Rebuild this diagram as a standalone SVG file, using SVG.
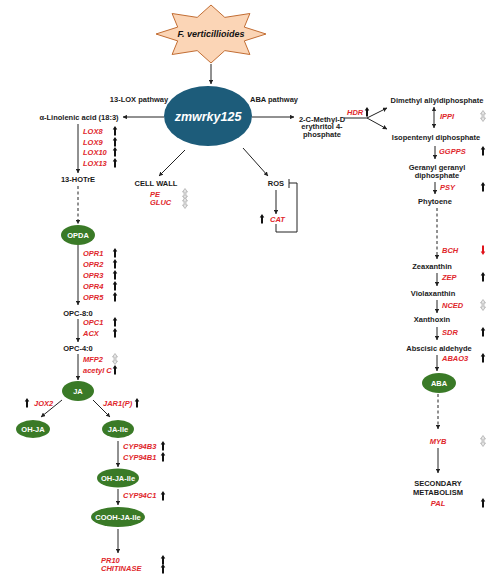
<svg xmlns="http://www.w3.org/2000/svg" width="498" height="576" viewBox="0 0 498 576">
<style>
.t{font-family:"Liberation Sans",Arial,sans-serif;font-weight:bold;font-size:7.5px;fill:#1a1a1a}
.m{text-anchor:middle}
.r{font-family:"Liberation Sans",Arial,sans-serif;font-weight:bold;font-style:italic;font-size:7.5px;fill:#e0262b}
.w{font-family:"Liberation Sans",Arial,sans-serif;font-weight:bold;font-size:7.5px;fill:#ffffff;text-anchor:middle}
.g{fill:#3a7a27}
.ln{stroke:#222;stroke-width:1;fill:none}
.ar{marker-end:url(#ah)}
.ds{stroke-dasharray:3 2.5}
</style>
<defs>
<marker id="ah" viewBox="0 0 8 8" refX="7.5" refY="4" markerWidth="4.5" markerHeight="4.5" markerUnits="userSpaceOnUse" orient="auto-start-reverse"><path d="M0,0 L8,4 L0,8 Z" fill="#222"/></marker>
<path id="up" d="M0,-5 L2.3,-1.5 L1,-1.5 L1,4.5 L-1,4.5 L-1,-1.5 L-2.3,-1.5 Z" fill="#111"/>
<path id="dn" d="M0,5 L2.3,1.5 L1,1.5 L1,-4.5 L-1,-4.5 L-1,1.5 L-2.3,1.5 Z" fill="#e0141c"/>
<path id="ud" d="M0,-5.5 L2.5,-2 L1,-2 L1,2 L2.5,2 L0,5.5 L-2.5,2 L-1,2 L-1,-2 L-2.5,-2 Z" fill="#e4e4e4" stroke="#9a9a9a" stroke-width="0.6"/>
</defs>

<g id="connectors">
<path class="ln ar" d="M211,64 V84"/>
<path class="ln ar" d="M164,117 H123"/>
<path class="ln ar" d="M252,117 H294"/>
<path class="ln ar" d="M78,124 V173"/>
<path class="ln ar ds" d="M78,186 V224"/>
<path class="ln ar" d="M78,245 V305"/>
<path class="ln ar" d="M78,319 V342"/>
<path class="ln ar" d="M78,354 V380"/>
<path class="ln ar" d="M62,400 L41,417"/>
<path class="ln ar" d="M93,400 L110,417"/>
<path class="ln ar" d="M118,441 V467"/>
<path class="ln ar" d="M118,489 V505"/>
<path class="ln ar" d="M118,529 V553"/>
<path class="ln ar" d="M185,150 L159,176"/>
<path class="ln ar" d="M243,148 L268,176"/>
<path class="ln ar" d="M276,190 V214"/>
<path class="ln" d="M276,224 V232 H297 V183 H289"/>
<path class="ln" d="M289,179 V188"/>
<path class="ln" d="M344,118 H367"/>
<path class="ln ar" d="M367,118 L387,108"/>
<path class="ln ar" d="M367,118 L387,129"/>
<path class="ln" d="M434,107 V128" marker-start="url(#ah)" marker-end="url(#ah)"/>
<path class="ln ar" d="M435,146 V159"/>
<path class="ln ar" d="M435,182 V194"/>
<path class="ln ar ds" d="M437,208 V259"/>
<path class="ln ar" d="M437,273 V286"/>
<path class="ln ar" d="M437,300 V313"/>
<path class="ln ar" d="M437,327 V340"/>
<path class="ln ar" d="M437,355 V371"/>
<path class="ln ar ds" d="M438,394 V429"/>
<path class="ln ar" d="M438,448 V473"/>
</g>

<g id="star">
<polygon points="211,5 224.8,17.4 249.9,13.5 244.3,27.1 266,34 244.3,40.9 249.9,54.5 224.8,50.6 211,63 197.2,50.6 172.1,54.5 177.7,40.9 156,34 177.7,27.1 172.1,13.5 197.2,17.4" fill="#fbd5b6" stroke="#c26d33" stroke-width="1"/>
<text x="211" y="37" class="m" style="font-family:'Liberation Sans',Arial,sans-serif;font-weight:bold;font-style:italic;font-size:9px;fill:#111">F. verticillioides</text>
</g>

<g id="zmwrky125">
<ellipse cx="208" cy="116" rx="44" ry="30" fill="#1d5c7a"/>
<text x="208" y="120.5" style="font-family:'Liberation Sans',Arial,sans-serif;font-weight:bold;font-style:italic;font-size:12.5px;fill:#fff;text-anchor:middle">zmwrky125</text>
</g>

<g id="labels-pathway">
<text class="t m" x="139" y="101.7">13-LOX pathway</text>
<text class="t m" x="274" y="101.7">ABA pathway</text>
</g>

<g id="lox-branch">
<text class="t m" x="79" y="119.7">α-Linolenic acid (18:3)</text>
<text class="r" x="83" y="133.5">LOX8</text>
<text class="r" x="83" y="144.5">LOX9</text>
<text class="r" x="83" y="155">LOX10</text>
<text class="r" x="83" y="166">LOX13</text>
<use href="#up" x="115" y="131"/><use href="#up" x="115" y="142"/><use href="#up" x="115" y="152"/><use href="#up" x="115" y="163"/>
<text class="t m" x="78" y="181.7">13-HOTrE</text>
</g>

<g id="OPDA"><ellipse class="g" cx="78" cy="235" rx="17" ry="10"/><text class="w" x="78" y="237.7">OPDA</text></g>

<g id="opr-genes">
<text class="r" x="83" y="256">OPR1</text>
<text class="r" x="83" y="267">OPR2</text>
<text class="r" x="83" y="277.7">OPR3</text>
<text class="r" x="83" y="288.7">OPR4</text>
<text class="r" x="83" y="299.7">OPR5</text>
<use href="#up" x="115" y="253"/><use href="#up" x="115" y="264"/><use href="#up" x="115" y="275"/><use href="#up" x="115" y="286"/><use href="#up" x="115" y="297"/>
<text class="t m" x="78" y="315.7">OPC-8:0</text>
<text class="r" x="83" y="324.7">OPC1</text>
<text class="r" x="83" y="336">ACX</text>
<use href="#up" x="115" y="322"/><use href="#up" x="115" y="333"/>
<text class="t m" x="78" y="350.7">OPC-4:0</text>
<text class="r" x="83" y="361.7">MFP2</text>
<text class="r" x="83" y="372.7">acetyl C</text>
<use href="#ud" x="115" y="359"/><use href="#up" x="115" y="370"/>
</g>

<g id="JA"><ellipse class="g" cx="78" cy="391" rx="16" ry="10"/><text class="w" x="78" y="393.7">JA</text></g>
<g id="ja-genes">
<use href="#up" x="27" y="403"/><text class="r" x="34" y="405.7">JOX2</text>
<text class="r" x="103" y="405.7">JAR1(P)</text><use href="#up" x="137" y="403"/>
</g>
<g id="OH-JA"><ellipse class="g" cx="33" cy="429" rx="17" ry="9"/><text class="w" x="33" y="431.7">OH-JA</text></g>
<g id="JA-Ile"><ellipse class="g" cx="118" cy="429" rx="16" ry="9"/><text class="w" x="118" y="431.7">JA-Ile</text></g>
<g id="cyp-genes">
<text class="r" x="123" y="448.7">CYP94B3</text>
<text class="r" x="123" y="459.7">CYP94B1</text>
<use href="#up" x="163" y="446"/><use href="#up" x="163" y="457"/>
</g>
<g id="OH-JA-Ile"><ellipse class="g" cx="118" cy="478" rx="21" ry="9.5"/><text class="w" x="118" y="480.7">OH-JA-Ile</text></g>
<g id="cyp94c1"><text class="r" x="123" y="498.4">CYP94C1</text><use href="#up" x="163" y="496"/></g>
<g id="COOH-JA-Ile"><ellipse class="g" cx="118" cy="517" rx="27" ry="10"/><text class="w" x="118" y="519.7">COOH-JA-Ile</text></g>
<g id="defense-genes">
<text class="r" x="101" y="562.5">PR10</text>
<text class="r" x="101" y="571.2">CHITINASE</text>
<use href="#up" x="163" y="560"/><use href="#up" x="163" y="569"/>
</g>

<g id="cell-wall">
<text class="t m" x="156" y="185.7">CELL WALL</text>
<text class="r" x="150" y="196.7">PE</text>
<text class="r" x="150" y="204.7">GLUC</text>
<use href="#ud" x="185" y="194"/><use href="#ud" x="185" y="203"/>
</g>

<g id="ros">
<text class="t m" x="276" y="185.7">ROS</text>
<use href="#up" x="262" y="219"/><text class="r" x="270" y="221.7">CAT</text>
</g>

<g id="mep">
<text class="t m" x="322" y="121.7">2-C-Methyl-D</text>
<text class="t m" x="322" y="129.4">erythritol 4-</text>
<text class="t m" x="322" y="137">phosphate</text>
<text class="r" x="347" y="114.7">HDR</text><use href="#up" x="367" y="112"/>
</g>

<g id="aba-branch">
<text class="t m" x="437" y="102.7">Dimethyl allyldiphosphate</text>
<text class="r" x="440" y="118.7">IPPI</text><use href="#ud" x="483" y="116"/>
<text class="t m" x="436" y="139.7">Isopentenyl diphosphate</text>
<text class="r" x="439" y="153.7">GGPPS</text><use href="#up" x="483" y="151"/>
<text class="t m" x="437" y="169.7">Geranyl geranyl</text>
<text class="t m" x="437" y="178.3">diphosphate</text>
<text class="r" x="440" y="189.7">PSY</text><use href="#up" x="483" y="187"/>
<text class="t m" x="435" y="203.7">Phytoene</text>
<text class="r" x="442" y="252.7">BCH</text><use href="#dn" x="483" y="250"/>
<text class="t m" x="432" y="268.7">Zeaxanthin</text>
<text class="r" x="442" y="279.7">ZEP</text><use href="#up" x="483" y="277"/>
<text class="t m" x="433" y="295.7">Violaxanthin</text>
<text class="r" x="442" y="307.7">NCED</text><use href="#ud" x="483" y="305"/>
<text class="t m" x="432" y="321.7">Xanthoxin</text>
<text class="r" x="442" y="334.7">SDR</text><use href="#up" x="483" y="332"/>
<text class="t m" x="439" y="350.7">Abscisic aldehyde</text>
<text class="r" x="442" y="360.7">ABAO3</text><use href="#up" x="483" y="358"/>
</g>
<g id="ABA"><ellipse class="g" cx="439" cy="383" rx="17" ry="10"/><text class="w" x="439" y="385.7">ABA</text></g>
<g id="myb">
<text class="r m" x="438" y="443.7">MYB</text><use href="#ud" x="483" y="441"/>
</g>
<g id="secondary">
<text class="t m" x="438" y="485.7">SECONDARY</text>
<text class="t m" x="438" y="494.7">METABOLISM</text>
<text class="r m" x="438" y="505.7">PAL</text><use href="#up" x="483" y="503"/>
</g>
</svg>
